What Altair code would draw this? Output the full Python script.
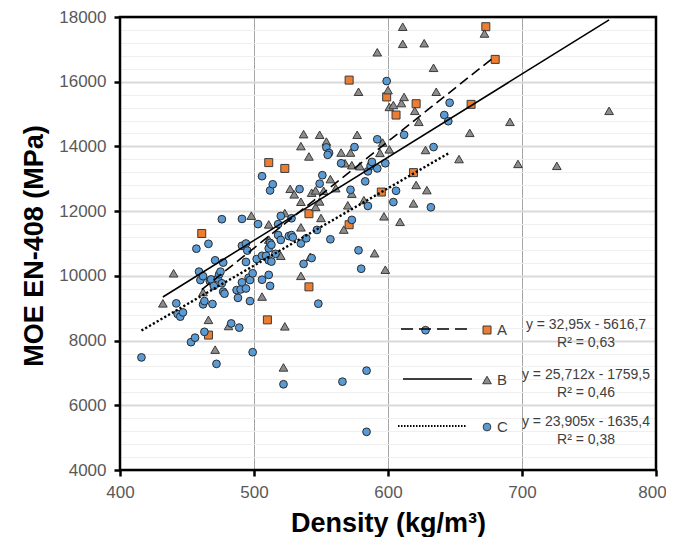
import altair as alt
import pandas as pd

# ---------------- data ----------------
a_density = [461, 466, 510, 511, 523, 541, 541, 571, 571, 595, 599, 606, 619, 621, 662, 673, 680]
a_moe = [11310, 8170, 8640, 13500, 13320, 11920, 9660, 16050, 11580, 12590, 15530, 14970, 13190, 15320, 15300, 17700, 16690]

b_density = [432, 440, 462, 466, 471, 481, 498, 506, 511, 511, 520, 522, 523, 523, 527, 530, 535, 535, 535, 535,
             537, 541, 542, 543, 546, 546, 549, 549, 550, 552, 554, 557, 561, 565, 567, 568, 570, 572, 573, 573,
             577, 578, 579, 582, 590, 592, 594, 596, 597, 598, 600, 601, 601, 604, 609, 610, 611, 611, 612, 619,
             620, 621, 623, 627, 628, 629, 634, 636, 653, 661, 672, 691, 697, 726, 765]
b_moe = [9150, 10080, 9500, 8640, 7720, 8450, 11860, 9360, 11590, 11120, 10620, 7170, 8440, 11940, 12690, 12520, 14010, 12290, 11500, 10000,
         14380, 13690, 10590, 12570, 12640, 12130, 14360, 12300, 11790, 12630, 14150, 12990, 12710, 13810, 11430, 13480, 12180, 13810, 13420, 12540,
         14360, 15690, 13390, 12340, 10700, 16910, 13800, 14120, 11840, 10190, 15740, 13910, 15220, 15280, 11670, 15340, 17700, 17170, 15530, 12240,
         15100, 12810, 14760, 17190, 13890, 12650, 16430, 15690, 13610, 14420, 17490, 14760, 13460, 13400, 15100]

c_density = [416, 442, 443, 445, 447, 453, 456, 457, 459, 460, 462, 462, 463, 463, 466, 467, 468, 469, 470, 471,
             472, 473, 474, 475, 476, 476, 477, 477, 478, 483, 487, 488, 489, 490, 491, 491, 491, 494, 494, 494,
             495, 496, 497, 497, 499, 499, 502, 503, 506, 506, 506, 509, 511, 511, 511, 512, 512, 512, 513, 514,
             513, 516, 518, 518, 520, 520, 522, 526, 528, 528, 529, 534, 535, 537, 539, 543, 547, 548, 549, 551,
             554, 556, 555, 557, 565, 566, 572, 573, 575, 578, 580, 583, 584, 584, 585, 585, 587, 588, 592, 592,
             598, 599, 604, 606, 612, 628, 632, 634, 642, 645, 646]
c_moe = [7480, 9150, 8820, 8740, 8870, 7950, 8090, 10840, 10130, 9870, 9990, 9120, 9220, 8270, 10990, 9840, 9890, 9130, 9690, 10480,
         7280, 9920, 10050, 10130, 11750, 9770, 10410, 9510, 9450, 8530, 9560, 9320, 8400, 9580, 11760, 10930, 9800, 11000, 10430, 9610,
         10780, 9940, 9870, 9220, 7640, 10080, 10520, 11600, 13080, 10620, 9880, 10620, 10850, 10480, 10030, 9690, 12640, 11020, 10960, 12830,
         10440, 10680, 11600, 11260, 11850, 11110, 6650, 11230, 11780, 11260, 11190, 12680, 11000, 10370, 11160, 10550, 11420, 9140, 12850, 13110,
         13970, 13800, 13740, 11130, 13480, 6730, 12660, 11730, 13980, 10790, 10220, 12920, 7070, 5180, 13230, 12160, 13400, 13520, 14220, 13320,
         13480, 16020, 12280, 12630, 14360, 8320, 12120, 13980, 14970, 14780, 15350]

series_names = ["A", "B", "C"]
slopes = [32.95, 25.712, 23.905]
intercepts = [-5616.7, -1759.5, -1635.4]
eq_labels = ["y = 32,95x - 5616,7", "y = 25,712x - 1759,5", "y = 23,905x - 1635,4"]
r2_labels = ["R² = 0,63", "R² = 0,46", "R² = 0,38"]

x_ticks = [400, 500, 600, 700, 800]
y_values = list(range(4000, 18001, 400))

# ---------------- layout / style ----------------
FONT = "Liberation Sans"
W, H = 536, 453
ORANGE, GREY, BLUE = "#ED7D31", "#8C8C8C", "#5B9BD5"

major = "datum.value % 2000 == 0"

x_enc = alt.X(
    "density:Q",
    scale=alt.Scale(domain=[400, 800], nice=False, zero=False),
    axis=alt.Axis(
        values=x_ticks, format="d", title="Density (kg/m³)",
        grid=True, gridColor="#a6a6a6", gridWidth=1,
        domain=False, tickColor="black", tickWidth=2.5, tickSize=6,
        labelFlush=False, labelPadding=8, labelFontSize=17, labelColor="#595959", labelFont=FONT,
        labelOffset={"condition": {"test": "datum.value == 800", "value": -4}, "value": 0},
        titleFont=FONT, titleFontSize=27, titleFontWeight="bold", titleColor="black",
        titleX=W / 2, titleY=53, titleBaseline="middle", titleAlign="center",
    ),
)
y_enc = alt.Y(
    "moe:Q",
    scale=alt.Scale(domain=[4000, 18000], nice=False, zero=False),
    axis=alt.Axis(
        values=y_values, format="d", title="MOE EN-408 (MPa)",
        labelExpr=f"{major} ? datum.label : ''", labelOverlap=False, labelFlush=False,
        grid=True,
        gridColor={"condition": {"test": major, "value": "#d9d9d9"}, "value": "#efefef"},
        gridWidth={"condition": {"test": major, "value": 2}, "value": 1},
        tickOpacity={"condition": {"test": major, "value": 1}, "value": 0},
        domain=False, tickColor="black", tickWidth=2.5, tickSize=6,
        labelPadding=8, labelFontSize=17, labelColor="#595959", labelFont=FONT,
        titleFont=FONT, titleFontSize=27, titleFontWeight="bold", titleColor="black",
        titleX=-86, titleY=H / 2 + 2, titleBaseline="middle", titleAlign="center", titleAngle=270,
    ),
)

df_a = pd.DataFrame({"density": a_density, "moe": a_moe})
df_b = pd.DataFrame({"density": b_density, "moe": b_moe})
df_c = pd.DataFrame({"density": c_density, "moe": c_moe})

pt_a = alt.Chart(df_a).mark_point(shape="square", filled=True, fill=ORANGE, stroke="#3a3a3a",
                                  strokeWidth=1, size=64, opacity=1).encode(x=x_enc, y=y_enc)
pt_b = alt.Chart(df_b).mark_point(shape="triangle-up", filled=True, fill=GREY, stroke="#3a3a3a",
                                  strokeWidth=1, size=75, opacity=1).encode(x=x_enc, y=y_enc)
pt_c = alt.Chart(df_c).mark_point(shape="circle", filled=True, fill=BLUE, stroke="#2a2a2a",
                                  strokeWidth=1, size=60, opacity=1).encode(x=x_enc, y=y_enc)

# trend lines from the equations printed on the chart, over each series' density range
dens_lists = [a_density, b_density, c_density]
trend_rows = []
for name, s, b, d in zip(series_names, slopes, intercepts, dens_lists):
    for xv in (min(d), max(d)):
        trend_rows.append({"series": name, "density": xv, "moe": s * xv + b})
trend = pd.DataFrame(trend_rows)

line_styles = {"A": dict(strokeDash=[10, 5], strokeWidth=1.6),
               "B": dict(strokeWidth=1.6),
               "C": dict(strokeDash=[2.2, 2.2], strokeWidth=2.4)}
trend_layers = [
    alt.Chart(trend[trend.series == n]).mark_line(color="black", **line_styles[n]).encode(x=x_enc, y=y_enc)
    for n in series_names
]

# ---------------- in-plot legend ----------------
one = pd.DataFrame({"k": [0]})
leg_rows_y = [312, 362, 409]
leg_line_x = [(281, 350), (283, 352), (278, 346)]
leg_line_style = [dict(strokeDash=[12, 6], strokeWidth=1.6), dict(strokeWidth=1.6),
                  dict(strokeDash=[1.5, 1.5], strokeWidth=2)]
leg_marks = [dict(shape="square", fill=ORANGE, size=64), dict(shape="triangle-up", fill=GREY, size=75),
             dict(shape="circle", fill=BLUE, size=60)]
legend_layers = []
for i, n in enumerate(series_names):
    yy = leg_rows_y[i]
    x1, x2 = leg_line_x[i]
    legend_layers.append(
        alt.Chart(one).mark_rule(color="black", **leg_line_style[i]).encode(
            x=alt.value(x1), x2=alt.value(x2), y=alt.value(yy)))
    legend_layers.append(
        alt.Chart(one).mark_point(filled=True, stroke="#3a3a3a", strokeWidth=1, opacity=1, **leg_marks[i]).encode(
            x=alt.value(367), y=alt.value(yy + 1)))
    legend_layers.append(
        alt.Chart(one).mark_text(text=n, align="left", baseline="middle", font=FONT, fontSize=15,
                                 color="#404040").encode(x=alt.value(377), y=alt.value(yy + 1)))
    legend_layers.append(
        alt.Chart(one).mark_text(text=eq_labels[i], align="center", baseline="middle", font=FONT, fontSize=14,
                                 color="#404040").encode(x=alt.value(466), y=alt.value(yy - 4)))
    legend_layers.append(
        alt.Chart(one).mark_text(text=r2_labels[i], align="center", baseline="middle", font=FONT, fontSize=14,
                                 color="#404040").encode(x=alt.value(466), y=alt.value(yy + 14)))

frame = alt.Chart(one).mark_rect(fill=None, stroke="black", strokeWidth=2.5).encode(
    x=alt.value(0), x2=alt.value(W), y=alt.value(0), y2=alt.value(H))

chart = alt.layer(pt_a, pt_b, pt_c, *trend_layers, *legend_layers, frame).properties(
    width=W, height=H,
    padding={"left": 112, "top": 9, "right": 10, "bottom": 67},
    autosize=alt.AutoSizeParams(type="none"),
).configure_view(stroke=None).configure(background="white")

chart.save("out.html", embed_options={"renderer": "svg", "actions": False})
